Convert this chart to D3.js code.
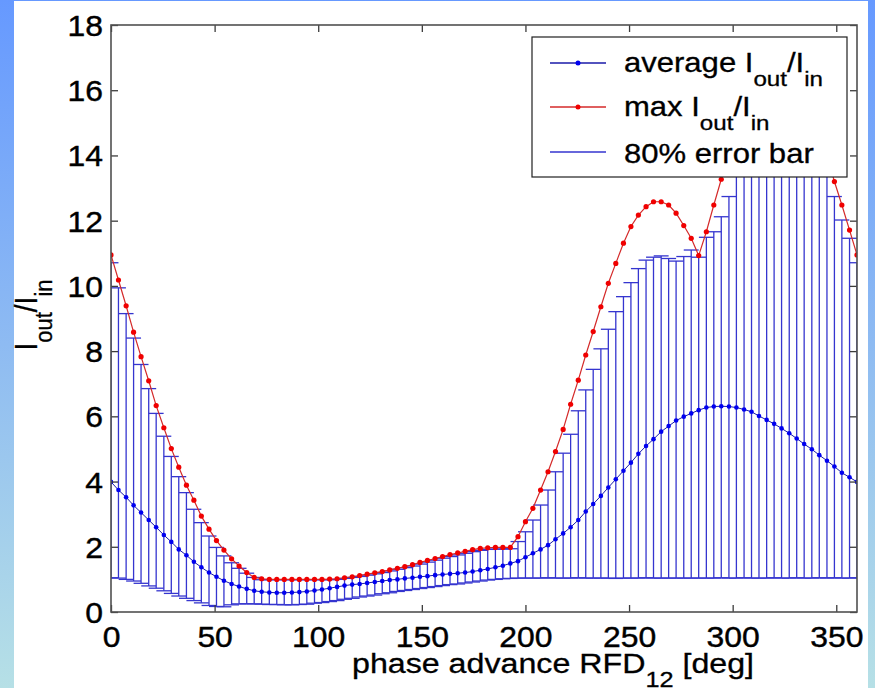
<!DOCTYPE html>
<html>
<head>
<meta charset="utf-8">
<script src="https://d3js.org/d3.v7.min.js"></script>
<style>
  html, body { margin: 0; padding: 0; }
  body { width: 875px; height: 688px; overflow: hidden; }
  text { font-family: "Liberation Sans", Arial, Helvetica, sans-serif; fill: #000; }
</style>
</head>
<body>
<div id="vis"></div>
<script>
/* Output / input ratio against phase advance, with 80% error bars */

// Phase advance samples [deg]
var phase = [
    0.0, 3.6, 7.3, 10.9, 14.5, 18.2, 21.8, 25.5, 29.1, 32.7,
    36.4, 40.0, 43.6, 47.3, 50.9, 54.5, 58.2, 61.8, 65.5, 69.1,
    72.7, 76.4, 80.0, 83.6, 87.3, 90.9, 94.5, 98.2, 101.8, 105.5,
    109.1, 112.7, 116.4, 120.0, 123.6, 127.3, 130.9, 134.5, 138.2, 141.8,
    145.5, 149.1, 152.7, 156.4, 160.0, 163.6, 167.3, 170.9, 174.5, 178.2,
    181.8, 185.5, 189.1, 192.7, 196.4, 200.0, 203.6, 207.3, 210.9, 214.5,
    218.2, 221.8, 225.5, 229.1, 232.7, 236.4, 240.0, 243.6, 247.3, 250.9,
    254.5, 258.2, 261.8, 265.5, 269.1, 272.7, 276.4, 280.0, 283.6, 287.3,
    290.9, 294.5, 298.2, 301.8, 305.5, 309.1, 312.7, 316.4, 320.0, 323.6,
    327.3, 330.9, 334.5, 338.2, 341.8, 345.5, 349.1, 352.7, 356.4, 360.0
];

// average Iout/Iin
var avgRatio = [
    3.99, 3.74, 3.52, 3.27, 3.05, 2.82, 2.60, 2.36, 2.15, 1.92,
    1.74, 1.54, 1.37, 1.21, 1.08, 0.96, 0.86, 0.78, 0.71, 0.65,
    0.62, 0.60, 0.59, 0.59, 0.60, 0.61, 0.63, 0.66, 0.69, 0.73,
    0.77, 0.81, 0.84, 0.86, 0.89, 0.92, 0.95, 0.98, 1.00, 1.03,
    1.05, 1.08, 1.10, 1.13, 1.15, 1.17, 1.19, 1.21, 1.24, 1.28,
    1.32, 1.37, 1.42, 1.49, 1.56, 1.68, 1.80, 1.92, 2.05, 2.23,
    2.41, 2.60, 2.82, 3.08, 3.31, 3.56, 3.82, 4.07, 4.33, 4.58,
    4.85, 5.09, 5.30, 5.53, 5.70, 5.87, 5.99, 6.09, 6.19, 6.27,
    6.30, 6.31, 6.30, 6.27, 6.21, 6.14, 6.01, 5.89, 5.77, 5.63,
    5.48, 5.32, 5.15, 4.99, 4.81, 4.64, 4.46, 4.27, 4.13, 3.99
];

// max Iout/Iin
var maxRatio = [
    10.95, 10.18, 9.39, 8.58, 7.83, 7.09, 6.33, 5.65, 5.01, 4.44,
    3.89, 3.43, 2.94, 2.54, 2.19, 1.90, 1.63, 1.41, 1.21, 1.06,
    1.02, 1.00, 1.00, 1.00, 1.00, 1.00, 1.00, 1.00, 1.00, 1.01,
    1.02, 1.05, 1.08, 1.12, 1.16, 1.20, 1.24, 1.29, 1.34, 1.39,
    1.45, 1.52, 1.58, 1.64, 1.70, 1.76, 1.81, 1.86, 1.91, 1.95,
    1.97, 1.98, 1.98, 1.98, 2.31, 2.77, 3.18, 3.74, 4.30, 4.92,
    5.60, 6.37, 7.11, 7.88, 8.60, 9.36, 10.08, 10.69, 11.31, 11.82,
    12.17, 12.43, 12.58, 12.58, 12.48, 12.23, 11.85, 11.46, 10.93, 11.66,
    12.48, 13.27, 14.0, 14.7, 15.3, 15.8, 16.2, 16.5, 16.7, 16.8,
    16.7, 16.5, 16.1, 15.5, 14.8, 14.0, 13.2, 12.48, 11.71, 10.95
];

// 80% error bar, lower end
var barLow = [
    1.05, 1.04, 1.00, 0.95, 0.88, 0.80, 0.73, 0.65, 0.57, 0.49,
    0.42, 0.35, 0.28, 0.20, 0.17, 0.16, 0.22, 0.25, 0.25, 0.25,
    0.24, 0.23, 0.23, 0.22, 0.22, 0.23, 0.24, 0.27, 0.29, 0.32,
    0.35, 0.39, 0.42, 0.46, 0.49, 0.52, 0.56, 0.59, 0.63, 0.66,
    0.69, 0.72, 0.75, 0.78, 0.81, 0.84, 0.86, 0.89, 0.92, 0.95,
    0.98, 1.00, 1.02, 1.03, 1.04, 1.04, 1.04, 1.04, 1.05, 1.04,
    1.04, 1.04, 1.05, 1.04, 1.04, 1.04, 1.04, 1.03, 1.04, 1.04,
    1.04, 1.05, 1.04, 1.04, 1.04, 1.04, 1.04, 1.04, 1.04, 1.04,
    1.04, 1.05, 1.04, 1.04, 1.05, 1.04, 1.04, 1.04, 1.05, 1.04,
    1.04, 1.05, 1.04, 1.04, 1.05, 1.04, 1.05, 1.04, 1.04, 1.05
];

// 80% error bar, upper end
var barHigh = [
    10.71, 9.94, 9.15, 8.40, 7.59, 6.85, 6.09, 5.39, 4.77, 4.15,
    3.66, 3.15, 2.74, 2.33, 1.98, 1.72, 1.51, 1.34, 1.19, 1.06,
    0.99, 0.99, 0.99, 0.99, 0.99, 0.99, 0.99, 0.99, 0.99, 0.99,
    1.00, 1.03, 1.06, 1.09, 1.13, 1.17, 1.21, 1.26, 1.31, 1.36,
    1.41, 1.47, 1.53, 1.59, 1.65, 1.70, 1.75, 1.80, 1.85, 1.89,
    1.92, 1.93, 1.93, 1.94, 2.16, 2.46, 2.82, 3.28, 3.74, 4.30,
    4.87, 5.45, 6.17, 6.81, 7.44, 8.07, 8.67, 9.21, 9.67, 10.10,
    10.53, 10.79, 10.88, 10.92, 10.84, 10.76, 10.90, 11.10, 10.88, 11.49,
    11.66, 12.12, 12.74, 13.5, 14.0, 14.5, 14.9, 15.2, 15.4, 15.5,
    15.4, 15.2, 14.8, 14.3, 13.8, 13.5, 12.74, 12.02, 11.46, 10.71
];

// Axis ticks
var xTicks = [0, 50, 100, 150, 200, 250, 300, 350];
var yTicks = [0, 2, 4, 6, 8, 10, 12, 14, 16, 18];

// Legend labels, split into normal / subscript runs
var legendLabels = [
    [{t: 'average I'}, {t: 'out', sub: true}, {t: '/I'}, {t: 'in', sub: true}],
    [{t: 'max I'}, {t: 'out', sub: true}, {t: '/I'}, {t: 'in', sub: true}],
    [{t: '80% error bar'}]
];

// Margin in SVG around the plotting box
var margin = {
    left: 111,
    top: 25,
    right: 18,
    bottom: 76
};

var svgWidth = 875;
var svgHeight = 688;
var height = svgHeight - margin.bottom - margin.top;
var width = svgWidth - margin.left - margin.right;

// Text in the picture is slightly wider than the font, stretch it a bit
var stretch = 1.1;

// Colours
var blueBar = '#3535cf';
var blueLine = '#1a1aa8';
var blueDot = '#0000f0';
var redLine = '#d42a2a';
var redDot = '#f00000';

/* ********************************** SVG and background ********************************** */
var svg = d3.select('#vis')
    .append('svg')
    .attr('width', svgWidth)
    .attr('height', svgHeight);

var defs = svg.append('defs');

var grad = defs.append('linearGradient')
    .attr('id', 'bg')
    .attr('x1', 0).attr('y1', 0)
    .attr('x2', 0).attr('y2', 1);
grad.append('stop').attr('offset', '0%').attr('stop-color', '#6699ff');
grad.append('stop').attr('offset', '50%').attr('stop-color', '#8ebbf2');
grad.append('stop').attr('offset', '100%').attr('stop-color', '#b6e0e6');

svg.append('rect')
    .attr('width', svgWidth)
    .attr('height', svgHeight)
    .attr('fill', 'url(#bg)');

// White figure panel
svg.append('rect')
    .attr('x', 14)
    .attr('y', 1)
    .attr('width', 854)
    .attr('height', svgHeight - 1)
    .attr('fill', '#fff');

defs.append('clipPath')
    .attr('id', 'plotClip')
    .append('rect')
    .attr('width', width)
    .attr('height', height);

var g = svg.append('g')
    .attr('transform', 'translate(' + margin.left + ',' + margin.top + ')');

/* ********************************** Scales ********************************** */
var xScale = d3.scaleLinear()
    .domain([0, 360])
    .range([0, width]);

var yScale = d3.scaleLinear()
    .domain([0, 18])
    .range([height, 0]);

// Data rows
var rows = phase.map(function(p, i) {
    return {
        phase: p,
        avg: avgRatio[i],
        max: maxRatio[i],
        lo: barLow[i],
        hi: barHigh[i]
    };
});

// Error bar cap half width, MATLAB style (1% of x range)
var tee = (d3.max(phase) - d3.min(phase)) / 100;

/* ********************************** Marks ********************************** */
var plot = g.append('g').attr('clip-path', 'url(#plotClip)');

// Error bars
var bars = plot.append('g')
    .attr('stroke', blueBar)
    .attr('stroke-width', 1.3)
    .attr('fill', 'none');

bars.selectAll('.stem')
    .data(rows)
    .enter().append('line')
    .attr('class', 'stem')
    .attr('x1', function(d) { return xScale(d.phase); })
    .attr('x2', function(d) { return xScale(d.phase); })
    .attr('y1', function(d) { return yScale(d.lo); })
    .attr('y2', function(d) { return yScale(d.hi); });

bars.selectAll('.capLo')
    .data(rows)
    .enter().append('line')
    .attr('class', 'capLo')
    .attr('x1', function(d) { return xScale(d.phase - tee); })
    .attr('x2', function(d) { return xScale(d.phase + tee); })
    .attr('y1', function(d) { return yScale(d.lo); })
    .attr('y2', function(d) { return yScale(d.lo); });

bars.selectAll('.capHi')
    .data(rows)
    .enter().append('line')
    .attr('class', 'capHi')
    .attr('x1', function(d) { return xScale(d.phase - tee); })
    .attr('x2', function(d) { return xScale(d.phase + tee); })
    .attr('y1', function(d) { return yScale(d.hi); })
    .attr('y2', function(d) { return yScale(d.hi); });

// Average line with dots
var avgLine = d3.line()
    .x(function(d) { return xScale(d.phase); })
    .y(function(d) { return yScale(d.avg); });

plot.append('path')
    .datum(rows)
    .attr('d', avgLine)
    .attr('fill', 'none')
    .attr('stroke', blueLine)
    .attr('stroke-width', 1);

plot.selectAll('.avgDot')
    .data(rows)
    .enter().append('circle')
    .attr('class', 'avgDot')
    .attr('cx', function(d) { return xScale(d.phase); })
    .attr('cy', function(d) { return yScale(d.avg); })
    .attr('r', 2.3)
    .attr('fill', blueDot);

// Max line with dots
var maxLine = d3.line()
    .x(function(d) { return xScale(d.phase); })
    .y(function(d) { return yScale(d.max); });

plot.append('path')
    .datum(rows)
    .attr('d', maxLine)
    .attr('fill', 'none')
    .attr('stroke', redLine)
    .attr('stroke-width', 1.2);

plot.selectAll('.maxDot')
    .data(rows)
    .enter().append('circle')
    .attr('class', 'maxDot')
    .attr('cx', function(d) { return xScale(d.phase); })
    .attr('cy', function(d) { return yScale(d.max); })
    .attr('r', 2.6)
    .attr('fill', redDot);

/* ********************************** Axes ********************************** */
var xAxis = d3.axisBottom(xScale)
    .tickValues(xTicks)
    .tickSizeInner(-7)
    .tickSizeOuter(0);

var yAxis = d3.axisLeft(yScale)
    .tickValues(yTicks)
    .tickSizeInner(-7)
    .tickSizeOuter(0);

var xAxisG = g.append('g')
    .attr('transform', 'translate(0,' + height + ')')
    .call(xAxis);

xAxisG.selectAll('text')
    .attr('y', 35)
    .attr('dy', 0)
    .attr('transform', 'scale(' + stretch + ',1)');

var yAxisG = g.append('g')
    .call(yAxis);

yAxisG.selectAll('text')
    .attr('x', -8 / stretch)
    .attr('dy', '0.36em')
    .attr('transform', 'scale(' + stretch + ',1)');

// Top and right ticks, no labels
g.append('g')
    .call(d3.axisTop(xScale).tickValues(xTicks).tickSizeInner(-7).tickSizeOuter(0).tickFormat(''));

g.append('g')
    .attr('transform', 'translate(' + width + ',0)')
    .call(d3.axisRight(yScale).tickValues(yTicks).tickSizeInner(-7).tickSizeOuter(0).tickFormat(''));

g.selectAll('.domain').remove();
g.selectAll('.tick line')
    .attr('stroke', '#3c3c3c')
    .attr('stroke-width', 1.3);
g.selectAll('.tick text')
    .attr('font-family', '"Liberation Sans", Arial, sans-serif')
    .attr('font-size', 29)
    .attr('fill', '#000')
    .attr('stroke', '#000')
    .attr('stroke-width', 0.4);

// Box around the plot
g.append('rect')
    .attr('width', width)
    .attr('height', height)
    .attr('fill', 'none')
    .attr('stroke', '#505050')
    .attr('stroke-width', 1.6);

/* ********************************** Text helper ********************************** */
// Write runs of normal and subscript text into a text element
var writeRuns = function(textSel, runs, size) {
    var subSize = Math.round(size * 0.78);
    var drop = Math.round(size * 0.5);
    runs.forEach(function(r, i) {
        var span = textSel.append('tspan').text(r.t);
        if (r.sub) {
            span.attr('font-size', subSize).attr('dy', drop);
        } else {
            span.attr('font-size', size);
            if (i > 0 && runs[i - 1].sub) span.attr('dy', -drop);
        }
    });
};

/* ********************************** Axis titles ********************************** */
var xTitle = svg.append('text')
    .attr('transform', 'translate(352,673) scale(1.15,1)')
    .attr('font-size', 28)
    .attr('stroke', '#000')
    .attr('stroke-width', 0.3);
writeRuns(xTitle, [{t: 'phase advance RFD'}, {t: '12', sub: true}, {t: ' [deg]'}], 28);

var yTitle = svg.append('text')
    .attr('transform', 'translate(37,315) rotate(-90) scale(1,' + stretch + ')')
    .attr('text-anchor', 'middle')
    .attr('font-size', 28)
    .attr('stroke', '#000')
    .attr('stroke-width', 0.3);
writeRuns(yTitle, [{t: 'I'}, {t: 'out', sub: true}, {t: '/I'}, {t: 'in', sub: true}], 28);

/* ********************************** Legend ********************************** */
var legend = svg.append('g');

legend.append('rect')
    .attr('x', 532)
    .attr('y', 37)
    .attr('width', 315)
    .attr('height', 140)
    .attr('fill', '#fff')
    .attr('stroke', '#202020')
    .attr('stroke-width', 1.2);

var legendRowY = [63, 107, 152];
var legendText = [72, 116, 163];
var legendStroke = [blueLine, redLine, blueBar];
var legendDot = [blueDot, redDot, null];

legendLabels.forEach(function(runs, i) {
    legend.append('line')
        .attr('x1', 550)
        .attr('x2', 606)
        .attr('y1', legendRowY[i])
        .attr('y2', legendRowY[i])
        .attr('stroke', legendStroke[i])
        .attr('stroke-width', 1.3);

    if (legendDot[i]) {
        legend.append('circle')
            .attr('cx', 578)
            .attr('cy', legendRowY[i])
            .attr('r', 2.5)
            .attr('fill', legendDot[i]);
    }

    var t = legend.append('text')
        .attr('transform', 'translate(624,' + legendText[i] + ') scale(1.15,1)')
        .attr('font-size', 27)
        .attr('stroke', '#000')
        .attr('stroke-width', 0.3);
    writeRuns(t, runs, 27);
});
</script>
</body>
</html>
